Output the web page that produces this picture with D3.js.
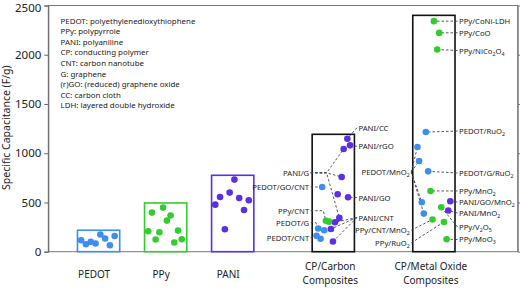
<!DOCTYPE html>
<html>
<head>
<meta charset="utf-8">
<script src="https://cdn.jsdelivr.net/npm/d3@7"></script>
<style>
body { margin: 0; background: #fff; }
svg text { font-family: "Noto Sans", sans-serif; fill: #222; }
</style>
</head>
<body>
<div id="chart-area"></div>
<script>
let width = 520,
height = 288;

// categories and where they sit on the x axis
let categories = ["PEDOT", "PPy", "PANI", "CP/Carbon|Composites", "CP/Metal Oxide|Composites"];
let catPos = [1, 2, 3, 4.5, 6];
let boxTops = [218, 495, 776, 1192, 2400];
let boxKind = ["PEDOT", "PPy", "PANI", "CP", "CP"];

// plain polymers (F/g)
let pedotValues = [117, 76, 100, 83, 174, 134, 66, 160];
let ppyValues = [208, 397, 124, 198, 448, 316, 367, 93, 215, 127];
let paniValues = [478, 556, 228, 600, 732, 546, 424, 522];

// composites: id, polymer, jitter, value
let carbonPoints = [
	["pani_cc", "PANI", 0.21, 1147],
	["pani_rgo", "PANI", 0.25, 1080],
	["pani_g1", "PANI", 0.155, 1043],
	["pani_g2", "PANI", 0.125, 759],
	["pani_x", "PANI", 0.065, 583],
	["pani_go", "PANI", 0.22, 553],
	["pani_g3", "PANI", 0.09, 343],
	["pani_cnt1", "PANI", 0.025, 299],
	["pani_cnt2", "PANI", -0.035, 231],
	["pani_cnt3", "PANI", -0.005, 103],
	["ppy_cnt", "PPy", -0.11, 315],
	["ppy_cnt2", "PPy", -0.065, 305],
	["pedot_gocnt", "PEDOT", -0.165, 657],
	["pedot_g", "PEDOT", -0.225, 235],
	["pedot_x", "PEDOT", -0.135, 218],
	["pedot_cnt", "PEDOT", -0.25, 162],
	["pedot_cnt2", "PEDOT", -0.19, 132]
];
let oxidePoints = [
	["ppy_coni", "PPy", 0.0, 2341],
	["ppy_coo", "PPy", 0.08, 2222],
	["ppy_nico", "PPy", 0.05, 2053],
	["pedot_ruo", "PEDOT", -0.12, 1215],
	["pedot_mn1", "PEDOT", -0.245, 1063],
	["pedot_mn2", "PEDOT", -0.22, 921],
	["pedot_gruo", "PEDOT", -0.085, 816],
	["ppy_mno", "PPy", -0.05, 617],
	["pani_gomno", "PANI", 0.245, 512],
	["pedot_mn3", "PEDOT", -0.18, 502],
	["ppy_vo", "PPy", 0.11, 451],
	["pani_mno", "PANI", 0.215, 418],
	["pedot_mn4", "PEDOT", -0.15, 387],
	["ppy_cntmno", "PPy", -0.02, 327],
	["ppy_ruo", "PPy", 0.15, 302],
	["ppy_moo", "PPy", 0.19, 127]
];

// annotation labels: text, category, side, value of label, linked points, knee jitter
let labels = [
	["PANI/G", 4.5, "L", 801, ["pani_g1", "pani_g2", "pani_g3"], -0.1],
	["PEDOT/GO/CNT", 4.5, "L", 657, ["pedot_gocnt"], null],
	["PPy/CNT", 4.5, "L", 416, ["ppy_cnt"], -0.15],
	["PEDOT/G", 4.5, "L", 296, ["pedot_g"], -0.26],
	["PEDOT/CNT", 4.5, "L", 144, ["pedot_cnt"], null],
	["PANI/CC", 4.5, "R", 1259, ["pani_cc"], null],
	["PANI/rGO", 4.5, "R", 1070, ["pani_rgo"], null],
	["PANI/GO", 4.5, "R", 550, ["pani_go"], null],
	["PANI/CNT", 4.5, "R", 347, ["pani_cnt1", "pani_cnt2", "pani_cnt3"], null],
	["PEDOT/MnO_2", 6, "L", 809, ["pedot_mn1", "pedot_mn2", "pedot_mn3", "pedot_mn4"], null],
	["PPy/CNT/MnO_2", 6, "L", 218, ["ppy_cntmno"], null],
	["PPy/RuO_2", 6, "L", 89, ["ppy_ruo"], null],
	["PPy/CoNi-LDH", 6, "R", 2341, ["ppy_coni"], null],
	["PPy/CoO", 6, "R", 2223, ["ppy_coo"], null],
	["PPy/NiCo_2O_4", 6, "R", 2043, ["ppy_nico"], null],
	["PEDOT/RuO_2", 6, "R", 1225, ["pedot_ruo"], null],
	["PEDOT/G/RuO_2", 6, "R", 799, ["pedot_gruo"], null],
	["PPy/MnO_2", 6, "R", 617, ["ppy_mno"], null],
	["PANI/GO/MnO_2", 6, "R", 505, ["pani_gomno"], null],
	["PANI/MnO_2", 6, "R", 393, ["pani_mno"], null],
	["PPy/V_2O_5", 6, "R", 251, ["ppy_vo"], null],
	["PPy/MoO_3", 6, "R", 124, ["ppy_moo"], null]
];

let abbreviations = [
	"PEDOT: polyethylenedioxythiophene",
	"PPy: polypyrrole",
	"PANI: polyaniline",
	"CP: conducting polymer",
	"CNT: carbon nanotube",
	"G: graphene",
	"(r)GO: (reduced) graphene oxide",
	"CC: carbon cloth",
	"LDH: layered double hydroxide"
];

let yTicks = [0, 500, 1000, 1500, 2000, 2500];

let colors = {PEDOT: "#3d8ef0", PPy: "#33cc2e", PANI: "#5a2fe6", CP: "#111"};

let svg = d3.select("#chart-area").append("svg")
	.attr("width", width)
	.attr("height", height);

let margin = {left: 48.3, right: 2.3, top: 5.5, bottom: 36.3};

let x = d3.scaleLinear()
	.domain([0.25, 7.25])
	.range([margin.left, width - margin.right]);

let y = d3.scaleLinear()
	.domain([0, 2500])
	.range([height - margin.bottom, margin.top]);

let boxHalf = 0.315;

// frame
svg.append("rect")
	.attr("x", x(0.25)).attr("y", y(2500))
	.attr("width", x(7.25) - x(0.25)).attr("height", y(0) - y(2500))
	.attr("fill", "none").attr("stroke", "#777").attr("stroke-width", 1);

let yAxis = svg.append("g")
	.attr("transform", "translate(" + x(0.25) + ",0)")
	.call(d3.axisLeft(y).tickValues(yTicks).tickSize(4).tickPadding(3).tickFormat(d3.format("d")));
yAxis.select(".domain").attr("stroke", "#666");
yAxis.selectAll(".tick line").attr("stroke", "#666");
yAxis.selectAll("text").style("font-size", "11.5px").attr("fill", "#222");
// keep the top label inside the picture
yAxis.selectAll(".tick text").filter(d => d === 2500).attr("dy", "0.5em");

let yRight = svg.append("g")
	.attr("transform", "translate(" + x(7.25) + ",0)")
	.call(d3.axisLeft(y).tickValues(yTicks.slice(1, 5)).tickSize(-4).tickFormat(""));
yRight.select(".domain").attr("stroke", "#777");
yRight.selectAll(".tick line").attr("stroke", "#777");

svg.append("text")
	.attr("transform", "translate(10," + (y(1250) - 1) + ") rotate(-90)")
	.attr("text-anchor", "middle")
	.style("font-size", "10.5px")
	.text("Specific Capacitance (F/g)");

// abbreviations
svg.append("g").selectAll("text")
	.data(abbreviations)
	.enter().append("text")
	.attr("x", 60.5)
	.attr("y", (d, i) => 23.5 + i * 10.6)
	.style("font-size", "7.9px")
	.text(d => d);

// category labels
svg.append("g").selectAll("text")
	.data(categories)
	.enter().append("text")
	.attr("text-anchor", "middle")
	.attr("x", (d, i) => x(catPos[i]) - (i < 3 ? 4.5 : 3))
	.attr("y", (d, i) => d.indexOf("|") < 0 ? 277.5 : 269.5)
	.style("font-size", "10px")
	.each(function(d) {
		let parts = d.split("|");
		parts.forEach((p, k) => {
			d3.select(this).append("tspan")
				.attr("x", d3.select(this).attr("x"))
				.attr("dy", k === 0 ? 0 : 14)
				.text(p);
		});
	});

// boxes
svg.append("g").selectAll("rect")
	.data(catPos)
	.enter().append("rect")
	.attr("x", d => x(d - boxHalf))
	.attr("width", d => x(d + boxHalf) - x(d - boxHalf))
	.attr("y", (d, i) => y(boxTops[i]))
	.attr("height", (d, i) => y(0) - y(boxTops[i]))
	.attr("fill", "none")
	.attr("stroke", (d, i) => colors[boxKind[i]])
	.attr("stroke-width", 1.6);

// points of the plain polymers, spread across the box in order
let plain = [];
[pedotValues, ppyValues, paniValues].forEach((vals, c) => {
	vals.forEach((v, i) => {
		plain.push({kind: boxKind[c], xv: catPos[c] - 0.26 + 0.5 * i / (vals.length - 1), v: v});
	});
});

let comp = [];
carbonPoints.forEach(p => comp.push({id: p[0], kind: p[1], xv: 4.5 + p[2], v: p[3]}));
oxidePoints.forEach(p => comp.push({id: p[0], kind: p[1], xv: 6 + p[2], v: p[3]}));
let byId = {};
comp.forEach(p => byId[p.id] = p);

// label text + dashed leader lines
let lineG = svg.append("g");
let labelG = svg.append("g");

labels.forEach(l => {
	let [txt, cat, side, val, targets, knee] = l;
	let ly = y(val);
	let lx = side === "L" ? x(cat - boxHalf) - 3 : x(cat + boxHalf) + 4;
	let t = labelG.append("text")
		.attr("x", lx)
		.attr("y", ly + 3)
		.attr("text-anchor", side === "L" ? "end" : "start")
		.style("font-size", "7.7px");
	let shift = 0;
	txt.split(/(_\d)/).forEach(part => {
		if (part === "") return;
		if (part[0] === "_") {
			t.append("tspan").attr("dy", 2 - shift).style("font-size", "5.3px").text(part[1]);
			shift = 2;
		} else {
			t.append("tspan").attr("dy", -shift).text(part);
			shift = 0;
		}
	});
	let ax = side === "L" ? lx + 1.5 : lx - 1.5;
	targets.forEach(id => {
		let p = byId[id];
		let pts = [[ax, ly]];
		if (knee !== null) pts.push([x(cat + knee), ly]);
		pts.push([x(p.xv), y(p.v)]);
		lineG.append("path")
			.attr("d", d3.line()(pts))
			.attr("fill", "none")
			.attr("stroke", "#444")
			.attr("stroke-width", 0.9)
			.attr("stroke-dasharray", "2.5,2");
	});
});

svg.append("g").selectAll("circle")
	.data(plain.concat(comp))
	.enter().append("circle")
	.attr("cx", d => x(d.xv))
	.attr("cy", d => y(d.v))
	.attr("r", 3.3)
	.attr("fill", d => colors[d.kind]);
</script>
</body>
</html>
